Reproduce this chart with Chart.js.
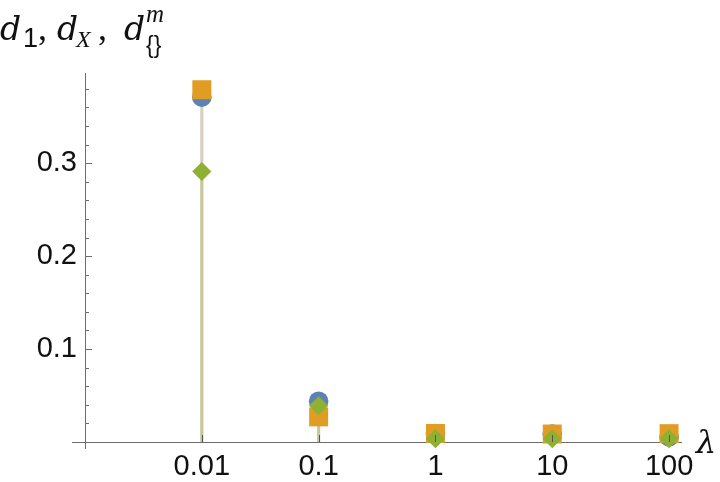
<!DOCTYPE html>
<html lang="en">
<head>
  <meta charset="UTF-8" />
  <title>d1, dX, dm vs lambda</title>
  <script src="https://cdn.jsdelivr.net/npm/chart.js"></script>
  <style>
    * { margin: 0; padding: 0; box-sizing: border-box; }
    body { background: #fff; width: 720px; height: 482px; overflow: hidden; }
  </style>
</head>
<body>
  <canvas id="chart" width="720" height="482"></canvas>

  <script>
    // data
    const lambdas = [0.01, 0.1, 1, 10, 100];
    const d1 = [0.371, 0.0438, 0.009, 0.0085, 0.0055];
    const dX = [0.379, 0.027, 0.0092, 0.0086, 0.009];
    const dm = [0.291, 0.039, 0.0035, 0.0035, 0.0035];

    const xTickLabels = ['0.01', '0.1', '1', '10', '100'];
    const yMajorTicks = [0.1, 0.2, 0.3];
    const yMajorLabels = ['0.1', '0.2', '0.3'];
    const yMinorTicks = [0.02, 0.04, 0.06, 0.08, 0.1, 0.12, 0.14, 0.16, 0.18, 0.2,
                         0.22, 0.24, 0.26, 0.28, 0.3, 0.32, 0.34, 0.36, 0.38];

    const axisColor = '#6d6d6d';

    const pts = arr => lambdas.map((l, i) => ({ x: l, y: arr[i] }));

    // stems, axis lines, inward tick marks and the math labels
    const mmaPlugin = {
      id: 'mmaAxes',
      beforeDatasetsDraw(chart) {
        const { ctx, scales: { x, y } } = chart;
        const y0 = y.getPixelForValue(0);
        const x0 = x.getPixelForValue(0.001);

        chart.data.datasets.forEach((ds, i) => {
          const meta = chart.getDatasetMeta(i);
          ctx.save();
          ctx.strokeStyle = ds.stemColor;
          ctx.lineWidth = 3;
          meta.data.forEach(p => {
            ctx.beginPath();
            ctx.moveTo(p.x, p.y);
            ctx.lineTo(p.x, y0);
            ctx.stroke();
          });
          ctx.restore();
        });

        ctx.save();
        ctx.strokeStyle = axisColor;
        ctx.lineWidth = 1;
        ctx.beginPath();
        ctx.moveTo(x0 - 13, y0 + 0.5);
        ctx.lineTo(x.right, y0 + 0.5);
        ctx.moveTo(x0 + 0.5, y.top);
        ctx.lineTo(x0 + 0.5, y0 + 7);
        ctx.stroke();
        // y ticks
        ctx.beginPath();
        yMinorTicks.forEach(v => {
          const py = Math.round(y.getPixelForValue(v)) + 0.5;
          const len = yMajorTicks.includes(v) ? 7 : 4;
          ctx.moveTo(x0, py);
          ctx.lineTo(x0 + len, py);
        });
        ctx.stroke();
        ctx.restore();
      },
      afterDatasetsDraw(chart) {
        const { ctx, scales: { x, y } } = chart;
        const y0 = y.getPixelForValue(0);
        ctx.save();
        ctx.strokeStyle = '#555';
        ctx.lineWidth = 1;
        ctx.beginPath();
        lambdas.forEach(l => {
          const px = Math.round(x.getPixelForValue(l)) + 0.5;
          ctx.moveTo(px, y0);
          ctx.lineTo(px, y0 - 7);
        });
        ctx.stroke();
        ctx.restore();
      },
      afterDraw(chart) {
        const ctx = chart.ctx;
        ctx.save();
        ctx.fillStyle = '#111';
        ctx.textBaseline = 'alphabetic';
        const dI = s => `italic ${s}px "DejaVu Serif", "Liberation Serif", serif`;
        const serifI = s => `italic ${s}px "Liberation Serif", serif`;
        const sans = s => `${s}px "Liberation Sans", Arial, sans-serif`;
        const serif = s => `${s}px "Liberation Serif", serif`;

        ctx.font = dI(33); ctx.fillText('d', 0, 40);
        ctx.font = sans(27); ctx.fillText('1', 23, 47);
        ctx.font = serif(36); ctx.fillText(',', 38, 40);
        ctx.font = dI(33); ctx.fillText('d', 57, 40);
        ctx.font = serifI(24); ctx.fillText('X', 76, 47);
        ctx.font = serif(36); ctx.fillText(',', 98, 40);
        ctx.font = dI(33); ctx.fillText('d', 124, 40);
        ctx.font = serifI(25); ctx.fillText('m', 146, 22);
        ctx.font = sans(23); ctx.fillText('{}', 146, 53);

        ctx.font = dI(32); ctx.fillText('\u03bb', 696, 453);
        ctx.restore();
      }
    };

    new Chart(document.getElementById('chart'), {
      type: 'scatter',
      data: {
        datasets: [
          {
            label: 'd1', data: pts(d1), order: 3,
            pointStyle: 'circle', pointRadius: 9.8, pointHoverRadius: 9.8,
            backgroundColor: '#5e81b5', borderWidth: 0,
            stemColor: 'rgba(94,129,181,0.25)', clip: false
          },
          {
            label: 'dX', data: pts(dX), order: 2,
            pointStyle: 'rect', pointRadius: 13.4, pointHoverRadius: 13.4,
            backgroundColor: '#e19c24', borderWidth: 0,
            stemColor: 'rgba(225,156,36,0.25)', clip: false
          },
          {
            label: 'dm', data: pts(dm), order: 1,
            pointStyle: 'rectRot', pointRadius: 9.6, pointHoverRadius: 9.6,
            backgroundColor: '#8fb032', borderWidth: 0,
            stemColor: 'rgba(143,176,50,0.25)', clip: false
          }
        ]
      },
      options: {
        responsive: false,
        animation: false,
        devicePixelRatio: 1,
        layout: { padding: { left: 0, right: 38, top: 73, bottom: 0 } },
        plugins: { legend: { display: false }, tooltip: { enabled: false } },
        scales: {
          x: {
            type: 'logarithmic',
            min: 0.001, max: 129,
            afterFit: s => { s.height = 40; },
            afterBuildTicks: s => { s.ticks = lambdas.map(v => ({ value: v })); },
            grid: { display: false, drawTicks: false },
            border: { display: false },
            ticks: {
              autoSkip: false, maxRotation: 0, padding: 8,
              color: '#111',
              font: { family: '"Liberation Sans", Arial, sans-serif', size: 29 },
              callback: (v) => {
                const i = lambdas.indexOf(v);
                return i >= 0 ? xTickLabels[i] : '';
              }
            }
          },
          y: {
            type: 'linear',
            min: 0, max: 0.397,
            afterFit: s => { s.width = 85; },
            afterBuildTicks: s => { s.ticks = yMinorTicks.map(v => ({ value: v })); },
            grid: { display: false, drawTicks: false },
            border: { display: false },
            ticks: {
              autoSkip: false, padding: 8,
              color: '#111',
              font: { family: '"Liberation Sans", Arial, sans-serif', size: 29 },
              callback: (v) => {
                const i = yMajorTicks.indexOf(v);
                return i >= 0 ? yMajorLabels[i] : '';
              }
            }
          }
        }
      },
      plugins: [mmaPlugin]
    });
  </script>
</body>
</html>
